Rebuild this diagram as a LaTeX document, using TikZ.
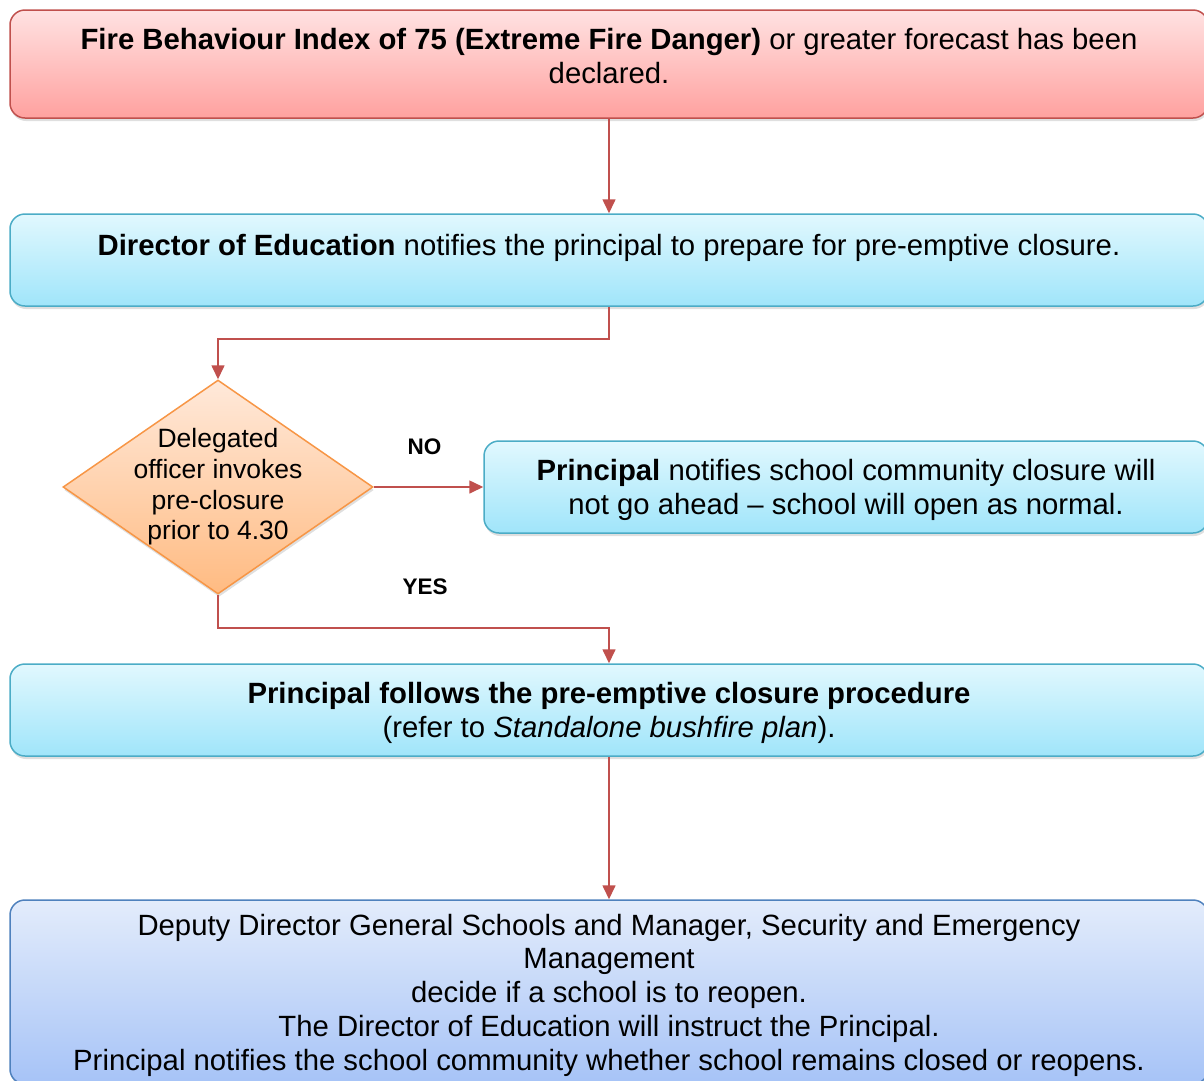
\documentclass[tikz,border=0pt]{standalone}
\usepackage{fontspec}
\setmainfont{Liberation Sans}
\usetikzlibrary{shapes.geometric,arrows.meta,shadows}
\definecolor{fireline}{HTML}{C0504D}
\definecolor{firetop}{HTML}{FFE2E2}
\definecolor{firebottom}{HTML}{FFA19F}
\definecolor{stepline}{HTML}{4BACC6}
\definecolor{steptop}{HTML}{E1F8FE}
\definecolor{stepbottom}{HTML}{A0E5FA}
\definecolor{decline}{HTML}{F79646}
\definecolor{dectop}{HTML}{FFE9DA}
\definecolor{decbottom}{HTML}{FFBB82}
\definecolor{endline}{HTML}{4F81BD}
\definecolor{endtop}{HTML}{E3ECFB}
\definecolor{endbottom}{HTML}{A6C3F7}
\begin{document}
\begin{tikzpicture}[x=1pt,y=-1pt,
        box/.style={draw, rounded corners=15pt, line width=1.5pt, align=center,
            font=\fontsize{29.3}{33.8}\selectfont,
            drop shadow={shadow xshift=1pt, shadow yshift=-3pt, opacity=0.25}},
        firebox/.style={box, draw=fireline, top color=firetop, bottom color=firebottom},
        stepbox/.style={box, draw=stepline, top color=steptop, bottom color=stepbottom},
        endbox/.style={box, draw=endline, top color=endtop, bottom color=endbottom},
        decision/.style={diamond, draw=decline, line width=1.5pt, inner sep=0pt,
            top color=dectop, bottom color=decbottom,
            drop shadow={shadow xshift=1pt, shadow yshift=-3pt, opacity=0.25}},
        flow/.style={draw=fireline, line width=1.6pt, -{Triangle[length=14pt,width=13pt]}},
        answer/.style={font=\fontsize{22.5}{26}\selectfont\bfseries}]
    \useasboundingbox (0,0) rectangle (1204,1080);
    \clip (0,0) rectangle (1204,1080);
    % boxes
    \node[firebox, minimum width=1198pt, minimum height=108pt, text depth=17pt] (fbi) at (609,64)
        {\textbf{Fire Behaviour Index of 75 (Extreme Fire Danger)} or greater forecast has been\\declared.};
    \node[stepbox, minimum width=1198pt, minimum height=92pt, text height=21pt, text depth=31pt] (doe) at (609,260)
        {\textbf{Director of Education} notifies the principal to prepare for pre-emptive closure.};
    \node[decision, minimum width=310pt, minimum height=214pt,
        label={[align=center, font=\fontsize{26.5}{30.6}\selectfont]center:Delegated\\officer invokes\\pre-closure\\prior to 4.30}] (dec) at (218,487) {};
    \node[stepbox, minimum width=724pt, minimum height=92pt, text depth=0pt] (nogo) at (846,487)
        {\textbf{Principal} notifies school community closure will\\not go ahead -- school will open as normal.};
    \node[stepbox, minimum width=1198pt, minimum height=92pt, text depth=0pt] (proc) at (609,710)
        {\textbf{Principal follows the pre-emptive closure procedure}\\(refer to \textit{Standalone bushfire plan}).};
    \node[endbox, minimum width=1198pt, minimum height=184pt, text depth=0pt] (ddg) at (609,992)
        {Deputy Director General Schools and Manager, Security and Emergency\\Management\\decide if a school is to reopen.\\The Director of Education will instruct the Principal.\\Principal notifies the school community whether school remains closed or reopens.};
    % connectors
    \draw[flow] (fbi) -- (doe);
    \draw[flow] (doe.south) -- ++(0,32) -| (dec.north);
    \draw[flow] (dec.east) -- node[answer, midway, xshift=-4pt, yshift=40pt] {NO} (nogo.west);
    \draw[flow] (dec.south) -- ++(0,33) -| node[answer, pos=0.265, yshift=41pt] {YES} (proc.north);
    \draw[flow] (proc) -- (ddg);
\end{tikzpicture}
\end{document}
